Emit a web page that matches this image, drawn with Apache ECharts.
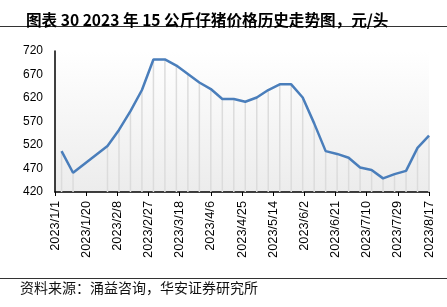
<!DOCTYPE html>
<html>
<head>
<meta charset="utf-8">
<script src="https://cdn.jsdelivr.net/npm/echarts@6/dist/echarts.min.js"></script>
<style>html,body{margin:0;padding:0;background:#fff}#c{width:447px;height:307px}</style>
</head>
<body>
<div id="c"></div>
<script>
var dates = ['2023-01-05','2023-01-12','2023-02-02','2023-02-09','2023-02-16','2023-02-23','2023-03-02','2023-03-09','2023-03-16','2023-03-23','2023-03-30','2023-04-06','2023-04-13','2023-04-20','2023-04-27','2023-05-04','2023-05-11','2023-05-18','2023-05-25','2023-06-01','2023-06-08','2023-06-15','2023-06-22','2023-06-29','2023-07-06','2023-07-13','2023-07-20','2023-07-27','2023-08-03','2023-08-10','2023-08-17'];
var prices = [507,461,518,552,592,637,702,702,689,671,653,639,618,618,612,621,637,649,649,621,566,507,501,493,472,467,449,458,465,514,540];
var axisStart = '2023-01-01';
var axisEnd = '2023-08-17';
var tickDays = 19;
var yTicks = [420,470,520,570,620,670,720];
var titleText = '图表 30 2023 年 15 公斤仔猪价格历史走势图，元/头';
var sourceText = '资料来源：涌益咨询，华安证券研究所';

var DAY = 86400000;
function dayNum(s){var p=s.split('-');return Math.round((Date.UTC(+p[0],+p[1]-1,+p[2])-Date.UTC(2023,0,1))/DAY);}
function fmt(d){var t=new Date(Date.UTC(2023,0,1)+d*DAY);return t.getUTCFullYear()+'/'+(t.getUTCMonth()+1)+'/'+t.getUTCDate();}
var pts = dates.map(function(d,i){return [dayNum(d), prices[i]];});

var chart = echarts.init(document.getElementById('c'), null, {renderer:'canvas'});
chart.setOption({
  animation:false,
  title:{text:titleText,left:21,top:7,textStyle:{fontSize:15.6,fontWeight:'bold',color:'#000',fontFamily:'"Noto Sans CJK SC", sans-serif'}},
  graphic:[
    {type:'line',shape:{x1:0,y1:26.5,x2:447,y2:26.5},style:{stroke:'#333',lineWidth:1}},
    {type:'line',shape:{x1:0,y1:278.5,x2:447,y2:278.5},style:{stroke:'#333',lineWidth:1}},
    {type:'text',left:20,top:279,style:{text:sourceText,fontSize:14,fill:'#111',fontFamily:'"Noto Sans CJK SC", sans-serif',lineHeight:17}}
  ],
  grid:{left:55,right:18,top:51,bottom:115,show:true,borderWidth:0,
    backgroundColor:{type:'linear',x:0,y:0,x2:0,y2:1,colorStops:[{offset:0,color:'#ffffff'},{offset:1,color:'#ececec'}]}},
  xAxis:{type:'value',min:dayNum(axisStart),max:dayNum(axisEnd),interval:tickDays,
    axisLine:{show:true,lineStyle:{color:'#000',width:1.5}},
    axisTick:{show:true,length:4,lineStyle:{color:'#000'}},
    splitLine:{show:false},
    axisLabel:{rotate:90,fontSize:12.8,color:'#000',margin:9,formatter:function(v){return fmt(v);},fontFamily:'"Liberation Sans", sans-serif'}},
  yAxis:{type:'value',min:yTicks[0],max:yTicks[yTicks.length-1],interval:50,
    axisLine:{show:true,lineStyle:{color:'#000',width:1.5}},
    axisTick:{show:false},splitLine:{show:false},
    axisLabel:{fontSize:12,color:'#000',margin:12,fontFamily:'"Liberation Sans", sans-serif'}},
  series:[
    {type:'bar',data:pts,barWidth:1.5,itemStyle:{color:'#dcdcdc'},silent:true,z:1},
    {type:'line',data:pts,symbol:'none',lineStyle:{color:'#4a7ebb',width:2.5},z:3}
  ]
});
</script>
</body>
</html>
